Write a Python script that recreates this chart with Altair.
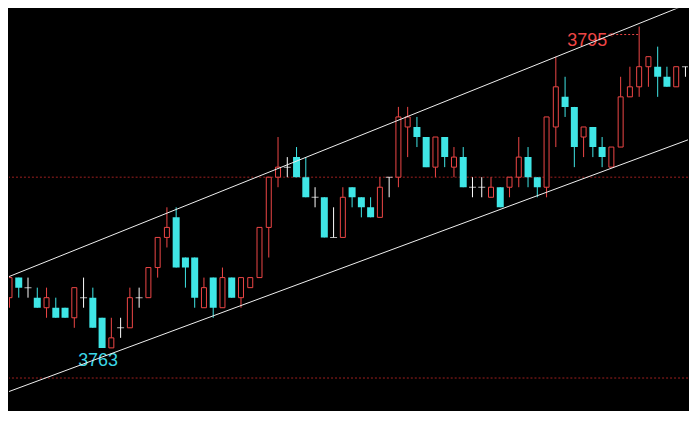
import altair as alt
import pandas as pd

# ---- data (one bar per index) ----
idx = list(range(76))
opens = [3770, 3768, 3770, 3769, 3768, 3767, 3767, 3767, 3766, 3768,
         3768, 3766, 3763, 3765, 3765, 3768, 3768, 3771, 3774, 3776,
         3772, 3772, 3767, 3770, 3767, 3770, 3768, 3769, 3770, 3775,
         3780, 3781, 3782, 3780, 3778, 3778, 3774, 3774, 3779, 3778,
         3777, 3776, 3780, 3780, 3785, 3785, 3784, 3781, 3784, 3781,
         3782, 3779, 3779, 3778, 3779, 3779, 3780, 3782, 3780, 3779,
         3785, 3788, 3787, 3784, 3785, 3783, 3781, 3783, 3788, 3789,
         3791, 3791, 3790, 3789, 3791, 3790]
highs = [3770, 3770, 3770, 3770, 3769, 3769, 3768, 3767, 3769, 3770,
         3769, 3766, 3766, 3766, 3769, 3769, 3771, 3774, 3777, 3777,
         3772, 3772, 3770, 3770, 3771, 3770, 3770, 3770, 3775, 3780,
         3784, 3782, 3783, 3782, 3779, 3778, 3777, 3779, 3779, 3778,
         3778, 3780, 3780, 3787, 3787, 3786, 3784, 3784, 3784, 3783,
         3783, 3780, 3780, 3780, 3779, 3780, 3784, 3783, 3780, 3786,
         3792, 3790, 3787, 3785, 3785, 3784, 3783, 3790, 3791, 3795,
         3792, 3793, 3791, 3791, 3791, 3795]
lows = [3767, 3767, 3768, 3768, 3767, 3766, 3766, 3766, 3765, 3767,
        3765, 3763, 3763, 3764, 3765, 3767, 3768, 3770, 3773, 3771,
        3769, 3767, 3767, 3766, 3767, 3768, 3767, 3769, 3770, 3772,
        3779, 3780, 3780, 3778, 3777, 3774, 3774, 3774, 3777, 3776,
        3776, 3776, 3778, 3779, 3782, 3783, 3781, 3780, 3781, 3780,
        3779, 3778, 3778, 3778, 3777, 3778, 3779, 3779, 3778, 3778,
        3783, 3786, 3781, 3782, 3782, 3781, 3781, 3783, 3788, 3788,
        3789, 3788, 3789, 3789, 3790, 3788]
closes = [3767, 3770, 3769, 3769, 3767, 3768, 3766, 3766, 3769, 3768,
          3765, 3763, 3764, 3765, 3768, 3768, 3771, 3774, 3775, 3771,
          3771, 3768, 3769, 3767, 3770, 3768, 3770, 3770, 3775, 3780,
          3781, 3781, 3780, 3778, 3778, 3774, 3774, 3778, 3778, 3777,
          3776, 3779, 3780, 3786, 3786, 3784, 3781, 3784, 3782, 3782,
          3779, 3779, 3779, 3779, 3777, 3780, 3782, 3780, 3779, 3786,
          3789, 3787, 3783, 3785, 3783, 3782, 3783, 3788, 3789, 3791,
          3792, 3790, 3789, 3791, 3791, 3788]

# dotted reference price levels
ref_levels = [3780, 3760]

# channel lines (two end points each, bar index / price)
chan_name = ["upper", "upper", "lower", "lower"]
chan_idx = [0, 76, 0, 76]
chan_price = [3769.75, 3797.9, 3758.33, 3784.31]

# annotations
hi_idx, hi_price, hi_text = [69], [3795], ["3795"]
lo_idx, lo_price, lo_text = [11], [3763], ["3763"]

RED = "#EE4646"
CYAN = "#3FE6E6"
WHITE = "#FFFFFF"

df = pd.DataFrame({"i": idx, "open": opens, "high": highs, "low": lows, "close": closes})
df["dir"] = ["up" if c > o else ("down" if c < o else "flat") for o, c in zip(opens, closes)]

xs = alt.Scale(domain=[0.9465, 74.275], nice=False, zero=False, padding=0)
ys = alt.Scale(domain=[3756.774, 3796.79], nice=False, zero=False, padding=0)
X = alt.X("i:Q", scale=xs, axis=None)
color = alt.Color("dir:N", scale=alt.Scale(domain=["up", "down", "flat"], range=[RED, CYAN, WHITE]), legend=None)

base = alt.Chart(df)

refs = alt.Chart(pd.DataFrame({"p": ref_levels})).mark_rule(
    color="#9E2020", strokeWidth=1, strokeDash=[2, 2]
).encode(y=alt.Y("p:Q", scale=ys, axis=None))

wicks = base.mark_rule(strokeWidth=1, clip=True).encode(
    x=X, y=alt.Y("low:Q", scale=ys, axis=None), y2="high:Q", color=color
)

up = base.transform_filter(alt.datum.dir == "up").mark_bar(
    size=5, fill="black", stroke=RED, strokeWidth=1, clip=True
).encode(x=X, y=alt.Y("open:Q", scale=ys, axis=None), y2="close:Q")

down = base.transform_filter(alt.datum.dir == "down").mark_bar(
    size=7, color=CYAN, clip=True
).encode(x=X, y=alt.Y("open:Q", scale=ys, axis=None), y2="close:Q")

flat = base.transform_filter(alt.datum.dir == "flat").mark_tick(
    orient="horizontal", size=7, thickness=1, color=WHITE, clip=True
).encode(x=X, y=alt.Y("open:Q", scale=ys, axis=None))

chan = alt.Chart(pd.DataFrame({"name": chan_name, "i": chan_idx, "p": chan_price})).mark_line(
    color="#F0F0F0", strokeWidth=1, clip=True
).encode(x=X, y=alt.Y("p:Q", scale=ys, axis=None), detail="name:N")

hi_df = pd.DataFrame({"i": hi_idx, "p": hi_price, "t": hi_text})
lo_df = pd.DataFrame({"i": lo_idx, "p": lo_price, "t": lo_text})

hi_label = alt.Chart(hi_df).mark_text(
    color=RED, font="Liberation Sans", fontSize=18, align="center", baseline="middle", dx=-52, dy=14
).encode(x=X, y=alt.Y("p:Q", scale=ys, axis=None), text="t:N")

hi_arrow = alt.Chart(hi_df).mark_text(
    color=RED, font="Liberation Sans", fontSize=8, align="center", baseline="middle", dx=-29, dy=8, text="<"
).encode(x=X, y=alt.Y("p:Q", scale=ys, axis=None))

hi_leader = alt.Chart(hi_df).mark_rule(
    color=RED, strokeWidth=1, strokeDash=[2, 2], xOffset=-27, yOffset=8
).encode(x=X, x2="i:Q", y=alt.Y("p:Q", scale=ys, axis=None))

lo_label = alt.Chart(lo_df).mark_text(
    color="#3AD6E6", font="Liberation Sans", fontSize=18, align="center", baseline="middle", dx=-4, dy=13
).encode(x=X, y=alt.Y("p:Q", scale=ys, axis=None), text="t:N")

chart = alt.layer(
    refs, wicks, up, down, flat, hi_leader, hi_arrow, hi_label, lo_label, chan
).properties(
    width=681, height=403, background="black", padding=0
).configure_view(stroke=None)

chart.save("out.html", embed_options={"renderer": "svg", "actions": False})
